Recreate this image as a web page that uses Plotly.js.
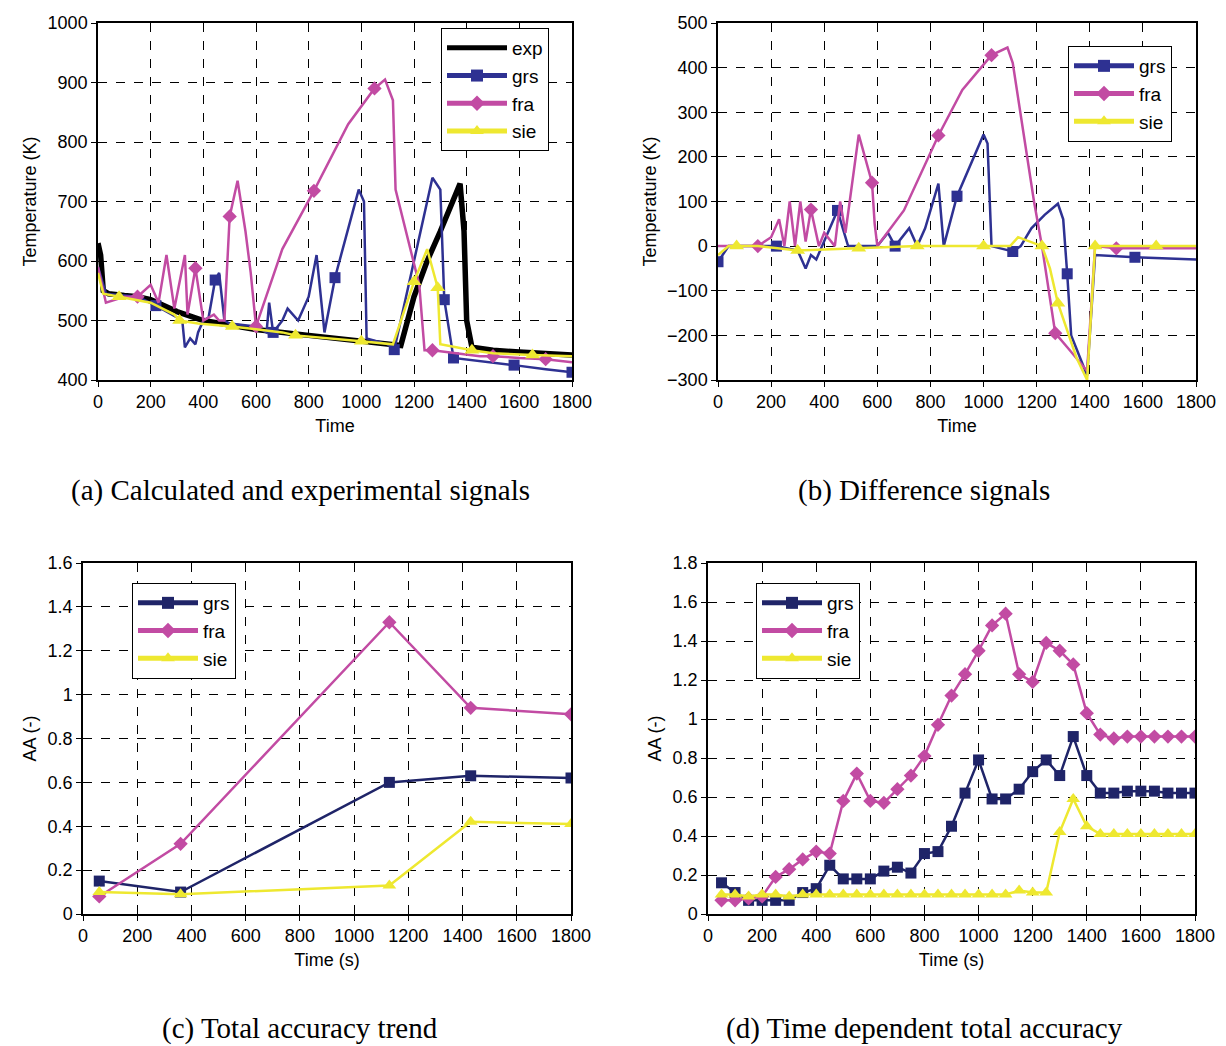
<!DOCTYPE html>
<html><head><meta charset="utf-8">
<script src="https://cdn.plot.ly/plotly-3.0.1.min.js"></script>
<style>body{margin:0;background:#fff}#c{width:1226px;height:1046px}</style>
</head><body><div id="c"></div>
<script>
// (a) calculated and experimental signals
const expT=[0,10,20,40,100,150,200,300,400,500,600,800,1000,1100,1150,1200,1250,1300,1350,1375,1390,1400,1420,1500,1600,1700,1800];
const expV=[630,610,550,545,542,540,535,515,500,492,485,475,465,460,458,540,600,650,700,730,650,500,455,450,447,444,442];
const grsAT=[0,30,150,220,300,320,330,350,370,380,400,420,445,460,480,500,600,640,650,665,700,720,760,800,830,860,900,990,1010,1020,1100,1125,1200,1270,1300,1315,1350,1500,1580,1700,1800];
const grsAV=[590,545,540,525,505,500,455,470,460,480,500,505,568,580,500,495,490,480,530,480,500,520,500,540,610,480,572,720,700,470,460,451,600,740,720,535,437,430,425,418,413];
const grsAM=[220,445,665,900,1125,1315,1350,1580,1800];
const fraAT=[0,30,100,150,200,230,260,290,330,340,370,400,440,460,480,500,530,560,580,600,700,820,950,1050,1090,1120,1130,1170,1220,1240,1270,1450,1500,1600,1700,1800];
const fraAV=[590,530,540,540,560,530,610,520,610,510,588,500,510,500,500,675,735,650,580,490,620,718,830,890,905,870,720,650,560,450,450,440,440,437,435,430];
const fraAM=[150,370,500,600,820,1050,1270,1500,1700];
const sieAT=[0,20,80,200,290,310,380,510,700,750,1000,1120,1200,1250,1290,1300,1420,1500,1650,1800];
const sieAV=[580,545,540,530,510,500,495,490,480,475,465,460,565,620,555,460,450,445,442,440];
const sieAM=[80,310,510,750,1000,1200,1290,1420,1650];
// (b) difference signals
const grsBT=[0,40,220,300,330,350,370,400,450,470,490,600,640,667,720,750,780,830,850,900,1000,1015,1030,1110,1140,1180,1230,1280,1300,1315,1330,1390,1420,1570,1800];
const grsBV=[-35,0,0,-10,-50,-20,-30,10,80,40,0,0,30,0,40,0,40,140,0,112,250,230,0,-12,0,40,70,95,60,-62,-200,-290,-20,-25,-30];
const grsBM=[0,220,450,667,900,1110,1315,1570];
const fraBT=[0,150,200,230,250,270,290,310,330,350,380,400,440,460,480,530,580,590,600,700,830,920,1030,1090,1110,1150,1190,1220,1270,1320,1390,1420,1500,1800];
const fraBV=[0,0,20,60,0,100,0,100,10,82,0,30,0,100,30,250,142,50,0,80,248,350,428,445,410,250,100,0,-195,-230,-280,0,-5,-5];
const fraBM=[150,350,580,830,1030,1270,1500];
const sieBT=[0,40,70,150,300,530,750,1000,1100,1130,1220,1250,1280,1350,1390,1420,1650,1800];
const sieBV=[-20,0,0,0,-10,-5,0,0,0,20,0,-50,-128,-250,-300,0,0,0];
const sieBM=[70,300,530,750,1000,1220,1280,1420,1650];
// (c) total accuracy trend
const tC=[60,360,1130,1430,1800];
const grsC=[0.15,0.1,0.6,0.63,0.62];
const fraC=[0.08,0.32,1.33,0.94,0.91];
const sieC=[0.1,0.09,0.13,0.42,0.41];
// (d) time dependent total accuracy
const tD=[50,100,150,200,250,300,350,400,450,500,550,600,650,700,750,800,850,900,950,1000,1050,1100,1150,1200,1250,1300,1350,1400,1450,1500,1550,1600,1650,1700,1750,1800];
const fraD=[0.07,0.07,0.08,0.09,0.19,0.23,0.28,0.32,0.31,0.58,0.72,0.58,0.57,0.64,0.71,0.81,0.97,1.12,1.23,1.35,1.48,1.54,1.23,1.19,1.39,1.35,1.28,1.03,0.92,0.90,0.91,0.91,0.91,0.91,0.91,0.91];
const grsD=[0.16,0.11,0.07,0.07,0.07,0.07,0.11,0.13,0.25,0.18,0.18,0.18,0.22,0.24,0.21,0.31,0.32,0.45,0.62,0.79,0.59,0.59,0.64,0.73,0.79,0.71,0.91,0.71,0.62,0.62,0.63,0.63,0.63,0.62,0.62,0.62];
const sieD=[0.1,0.1,0.09,0.1,0.1,0.09,0.1,0.1,0.1,0.1,0.1,0.1,0.1,0.1,0.1,0.1,0.1,0.1,0.1,0.1,0.1,0.1,0.12,0.11,0.11,0.42,0.59,0.45,0.41,0.41,0.41,0.41,0.41,0.41,0.41,0.41];

const BLUE='#2E3192',NAVY='#1F2468',PINK='#C24BA3',YEL='#EEE830';
const sym={grs:'square',fra:'diamond',sie:'triangle-up'};
function sparse(name,t,v,m,color,xa,ya,leg){
  return {x:t,y:v,name:name,mode:'lines+markers',xaxis:xa,yaxis:ya,legend:leg,
    line:{color:color,width:2.5},
    marker:{symbol:sym[name],color:color,opacity:1,line:{width:0},size:t.map(x=>m.includes(x)?(name==='sie'?13:11):0)}};
}
function full(name,t,v,color,xa,ya,leg){
  return {x:t,y:v,name:name,mode:'lines+markers',xaxis:xa,yaxis:ya,legend:leg,
    line:{color:color,width:2.5},marker:{symbol:sym[name],color:color,size:name==='sie'?12:11}};
}
const data=[
  {x:expT,y:expV,name:'exp',mode:'lines',line:{color:'#000',width:5.5},xaxis:'x',yaxis:'y',legend:'legend'},
  sparse('grs',grsAT,grsAV,grsAM,BLUE,'x','y','legend'),
  sparse('fra',fraAT,fraAV,fraAM,PINK,'x','y','legend'),
  sparse('sie',sieAT,sieAV,sieAM,YEL,'x','y','legend'),
  sparse('grs',grsBT,grsBV,grsBM,BLUE,'x2','y2','legend2'),
  sparse('fra',fraBT,fraBV,fraBM,PINK,'x2','y2','legend2'),
  sparse('sie',sieBT,sieBV,sieBM,YEL,'x2','y2','legend2'),
  full('grs',tC,grsC,NAVY,'x3','y3','legend3'),
  full('fra',tC,fraC,PINK,'x3','y3','legend3'),
  full('sie',tC,sieC,YEL,'x3','y3','legend3'),
  full('grs',tD,grsD,NAVY,'x4','y4','legend4'),
  full('fra',tD,fraD,PINK,'x4','y4','legend4'),
  full('sie',tD,sieD,YEL,'x4','y4','legend4')
];
const W=1226,H=1046;
const tf={family:'Liberation Sans, Arial',size:18,color:'#000'};
function ax(x0,x1,range,dtick,title,extra){
  return Object.assign({domain:[x0/W,x1/W],range:range,dtick:dtick,showgrid:true,gridcolor:'#000',griddash:'dash',gridwidth:1,
    zeroline:false,showline:true,linecolor:'#000',linewidth:1.5,mirror:true,ticks:'outside',ticklen:5,tickcolor:'#000',
    tickfont:tf,title:{text:title,font:tf,standoff:8}},extra||{});
}
function ay(y0,y1,range,dtick,title,extra){
  return Object.assign({domain:[1-y1/H,1-y0/H],range:range,dtick:dtick,showgrid:true,gridcolor:'#000',griddash:'dash',gridwidth:1,
    zeroline:false,showline:true,linecolor:'#000',linewidth:1.5,mirror:true,ticks:'outside',ticklen:5,tickcolor:'#000',
    tickfont:tf,title:{text:title,font:tf,standoff:6}},extra||{});
}
function lg(x,y){return {x:x/W,y:1-y/H,xanchor:'left',yanchor:'top',bgcolor:'#fff',bordercolor:'#000',borderwidth:1,
  font:{family:'Liberation Sans, Arial',size:19,color:'#000'},itemsizing:'constant',itemwidth:60,tracegroupgap:0};}
const cap={family:'Liberation Serif, serif',size:29,color:'#000'};
function an(t,x,y){return {text:t,x:x/W,y:1-y/H,xref:'paper',yref:'paper',xanchor:'center',yanchor:'middle',showarrow:false,font:cap};}
const layout={width:W,height:H,margin:{l:0,r:0,t:0,b:0},paper_bgcolor:'#fff',plot_bgcolor:'#fff',
  xaxis:ax(98,572,[0,1800],200,'Time',{anchor:'y'}),
  yaxis:ay(23,380,[400,1000],100,'Temperature (K)',{anchor:'x'}),
  xaxis2:ax(718,1196,[0,1800],200,'Time',{anchor:'y2'}),
  yaxis2:ay(23,380,[-300,500],100,'Temperature (K)',{anchor:'x2'}),
  xaxis3:ax(83,571,[0,1800],200,'Time (s)',{anchor:'y3'}),
  yaxis3:ay(563,914,[0,1.6],0.2,'AA (-)',{anchor:'x3'}),
  xaxis4:ax(708,1195,[0,1800],200,'Time (s)',{anchor:'y4'}),
  yaxis4:ay(563,914,[0,1.8],0.2,'AA (-)',{anchor:'x4'}),
  legend:lg(441,28),legend2:lg(1068,46),legend3:lg(132,583),legend4:lg(756,583),
  annotations:[
    an('(a) Calculated and experimental signals',300,490),
    an('(b) Difference signals',924,490),
    an('(c) Total accuracy trend',300,1028),
    an('(d) Time dependent total accuracy',924,1028)
  ]};
Plotly.newPlot('c',data,layout,{displayModeBar:false});
</script></body></html>
